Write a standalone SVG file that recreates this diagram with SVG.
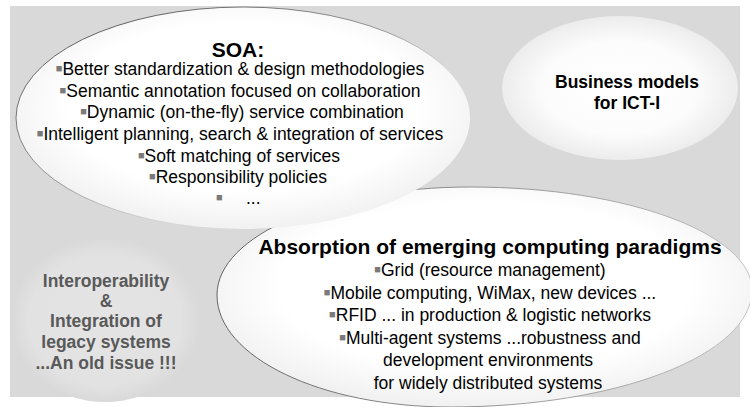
<svg xmlns="http://www.w3.org/2000/svg" width="750" height="407" viewBox="0 0 750 407">
<defs>
<style>
text{font-family:"Liberation Sans",Arial,sans-serif;fill:#000}
.t{font-size:17.5px;text-anchor:middle}
.h{font-size:21px;font-weight:bold;text-anchor:middle}
.hb{font-size:17.5px;font-weight:bold;text-anchor:middle}
.gi{font-size:17.5px;font-weight:bold;text-anchor:middle;fill:#595959}
.b{font-size:11px;fill:#7a7a7a}
</style>
<radialGradient id="fillW" cx="0.5" cy="0.45" r="0.55">
<stop offset="0" stop-color="#ffffff"/>
<stop offset="0.7" stop-color="#ffffff"/>
<stop offset="1" stop-color="#f1f1f1"/>
</radialGradient>
<radialGradient id="fillB" cx="0.5" cy="0.5" r="0.5">
<stop offset="0" stop-color="#ffffff"/>
<stop offset="0.65" stop-color="#fcfcfc"/>
<stop offset="1" stop-color="#ececec"/>
</radialGradient>
<radialGradient id="fillI" cx="0.5" cy="0.5" r="0.5">
<stop offset="0" stop-color="#e4e4e4"/>
<stop offset="0.8" stop-color="#e2e2e2"/>
<stop offset="1" stop-color="#d9d9d9"/>
</radialGradient>
<linearGradient id="strokeS" x1="0" y1="0" x2="1" y2="1">
<stop offset="0" stop-color="#333" stop-opacity="1"/>
<stop offset="0.45" stop-color="#666" stop-opacity="0.7"/>
<stop offset="0.7" stop-color="#999" stop-opacity="0"/>
</linearGradient>
<linearGradient id="strokeA" x1="0" y1="0" x2="1" y2="0">
<stop offset="0" stop-color="#555"/>
<stop offset="1" stop-color="#bdbdbd"/>
</linearGradient>
</defs>
<rect id="background" x="10" y="6" width="730" height="391" fill="#d9d9d9"/>
<g id="node-interoperability">
<ellipse cx="105" cy="320" rx="95" ry="82" fill="url(#fillI)"/>
<text class="gi" x="106" y="287">Interoperability</text>
<text class="gi" x="106" y="307">&amp;</text>
<text class="gi" x="106" y="327">Integration of</text>
<text class="gi" x="106" y="348">legacy systems</text>
<text class="gi" x="106" y="369">...An old issue !!!</text>
</g>
<g id="node-absorption">
<path d="M470,187 C630,187 752,235 752,290 C752,355 617,407 450,407 C321,407 217,357 217,295 C217,235 330,187 470,187 Z" fill="url(#fillW)" stroke="url(#strokeA)" stroke-width="0.9"/>
<text class="h" x="490" y="254">Absorption of emerging computing paradigms</text>
<text class="t" x="490" y="276"><tspan class="b" dy="-3">■</tspan><tspan dy="3">Grid (resource management)</tspan></text>
<text class="t" x="490" y="299"><tspan class="b" dy="-3">■</tspan><tspan dy="3">Mobile computing, WiMax, new devices ...</tspan></text>
<text class="t" x="490" y="321"><tspan class="b" dy="-3">■</tspan><tspan dy="3">RFID ... in production &amp; logistic networks</tspan></text>
<text class="t" x="490" y="344"><tspan class="b" dy="-3">■</tspan><tspan dy="3">Multi-agent systems ...robustness and</tspan></text>
<text class="t" x="488" y="366">development environments</text>
<text class="t" x="488" y="389">for widely distributed systems</text>
</g>
<g id="node-soa">
<ellipse cx="243" cy="118" rx="227" ry="111" fill="url(#fillW)" stroke="url(#strokeS)" stroke-width="0.9"/>
<text class="h" x="238" y="57">SOA:</text>
<text class="t" x="240" y="75"><tspan class="b" dy="-3">■</tspan><tspan dy="3">Better standardization &amp; design methodologies</tspan></text>
<text class="t" x="240" y="97"><tspan class="b" dy="-3">■</tspan><tspan dy="3">Semantic annotation focused on collaboration</tspan></text>
<text class="t" x="242" y="118"><tspan class="b" dy="-3">■</tspan><tspan dy="3">Dynamic (on-the-fly) service combination</tspan></text>
<text class="t" x="240" y="140"><tspan class="b" dy="-3">■</tspan><tspan dy="3">Intelligent planning, search &amp; integration of services</tspan></text>
<text class="t" x="239" y="162"><tspan class="b" dy="-3">■</tspan><tspan dy="3">Soft matching of services</tspan></text>
<text class="t" x="238" y="183"><tspan class="b" dy="-3">■</tspan><tspan dy="3">Responsibility policies</tspan></text>
<text style="font-size:17.5px" x="216" y="204"><tspan class="b" dy="-3">■</tspan><tspan x="246" dy="3">...</tspan></text>
</g>
<g id="node-business">
<ellipse cx="620" cy="88" rx="118" ry="72" fill="url(#fillB)"/>
<text class="hb" x="627" y="88">Business models</text>
<text class="hb" x="627" y="109">for ICT-I</text>
</g>
<g id="connectors"/>
</svg>
